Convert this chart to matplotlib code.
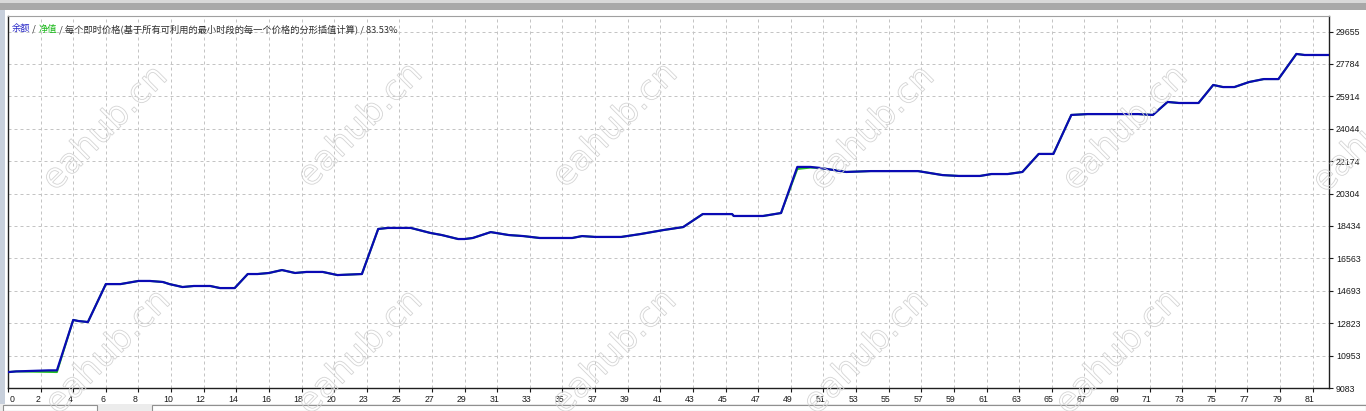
import numpy as np
import matplotlib.pyplot as plt
import matplotlib.patheffects as pe
from matplotlib.patches import Rectangle
from matplotlib.transforms import ScaledTranslation

plt.rcParams['font.family'] = ['Noto Sans CJK SC', 'DejaVu Sans']

# 交易序号 / 余额
trade = [0.0, 0.5, 2.5, 3.0, 4.0, 4.3, 4.9, 6.0, 6.9, 8.0,
         8.7, 9.5, 9.9, 10.7, 11.4, 12.4, 13.0, 13.9, 14.7, 15.3,
         16.0, 16.8, 17.6, 18.3, 19.3, 20.2, 21.7, 22.7, 23.3, 24.7,
         25.9, 26.6, 27.6, 28.0, 28.5, 29.6, 30.7, 31.6, 32.6, 34.6,
         35.2, 36.0, 37.6, 38.8, 40.2, 41.4, 42.6, 44.4, 44.5, 46.3,
         47.4, 48.4, 49.2, 49.8, 51.4, 52.9, 55.8, 57.3, 58.3, 59.6,
         60.3, 61.3, 62.2, 63.2, 64.1, 65.2, 66.2, 68.0, 69.3, 70.2,
         71.1, 71.8, 73.0, 73.9, 74.5, 75.2, 76.1, 77.0, 77.9, 79.0,
         79.5, 81.0]
balance = [10000, 10040, 10100, 10100, 13010, 12950, 12890, 15080, 15080, 15260,
           15260, 15200, 15080, 14910, 14970, 14970, 14850, 14850, 15660, 15660,
           15720, 15890, 15720, 15780, 15780, 15600, 15660, 18260, 18320, 18320,
           18030, 17910, 17680, 17680, 17740, 18080, 17910, 17850, 17740, 17740,
           17850, 17800, 17800, 17970, 18200, 18370, 19120, 19120, 19010, 19010,
           19180, 21840, 21840, 21780, 21550, 21600, 21600, 21370, 21320, 21320,
           21430, 21430, 21550, 22590, 22590, 24840, 24890, 24890, 24890, 24840,
           25590, 25530, 25530, 26570, 26450, 26450, 26740, 26910, 26910, 28360,
           28300, 28300]
# 净值: 与余额基本重合, 只有几处略低
equity = list(balance)
equity[2] = 10010
equity[3] = 10000
equity[51] = 21720
equity[52] = 21800

y_ticks = [9083, 10953, 12823, 14693, 16563, 18434, 20304, 22174, 24044,
           25914, 27784, 29655]
x_labels = [str(v) for v in range(0, 21, 2)] + [str(v) for v in range(23, 82, 2)]

W, H = 1366, 411
fig = plt.figure(figsize=(W / 100, H / 100), dpi=100)
fig.patch.set_facecolor('white')

# 窗口边框装饰
fig.patches.append(Rectangle((0, 1 - 3 / H), 1, 3 / H, transform=fig.transFigure,
                             facecolor='#d8d8d8', edgecolor='none', zorder=-5))
fig.patches.append(Rectangle((0, 1 - 10 / H), 1, 7 / H, transform=fig.transFigure,
                             facecolor='#a8a8a8', edgecolor='none', zorder=-5))
fig.patches.append(Rectangle((0, 0), 5 / W, 1 - 10 / H, transform=fig.transFigure,
                             facecolor='#c8d0dc', edgecolor='none', zorder=-5))
fig.patches.append(Rectangle((0, 0), 1, 7 / H, transform=fig.transFigure,
                             facecolor='#ececec', edgecolor='none', zorder=-5))
fig.patches.append(Rectangle((3 / W, 0), 94 / W, 6 / H, transform=fig.transFigure,
                             facecolor='white', edgecolor='#909090', lw=0.8, zorder=-4))
fig.patches.append(Rectangle((152 / W, 0), 1214 / W, 6 / H, transform=fig.transFigure,
                             facecolor='white', edgecolor='#909090', lw=0.8, zorder=-4))

ax = fig.add_axes([8 / W, 1 - 388 / H, (1329 - 8) / W, (388 - 16) / H])
ax.set_xlim(0, 81)
ax.set_ylim(9083, 30550)

ax.plot(trade, equity, color='#22c022', lw=1.4, zorder=3)
ax.plot(trade, balance, color='#0a0ab4', lw=1.6, zorder=4)

ax.set_yticks(y_ticks)
ax.set_yticklabels([str(v) for v in y_ticks])
ax.set_xticks(range(0, 81, 2))
ax.set_xticklabels(x_labels)
ax.yaxis.tick_right()
ax.tick_params(axis='both', direction='out', length=3, width=0.8,
               labelsize=6.3, colors='#1a1a1a', pad=2)
for lab in ax.get_xticklabels() + ax.get_yticklabels():
    lab.set_family(['Liberation Sans', 'DejaVu Sans'])
for i, lab in enumerate(ax.get_xticklabels()):
    dx = 4 / 100 if i == 0 else -3 / 100
    lab.set_transform(lab.get_transform() + ScaledTranslation(dx, 0, fig.dpi_scale_trans))

ax.grid(True, color='#c4c4c4', lw=0.72, linestyle=(0, (3, 3)))
for side in ['left', 'right', 'bottom']:
    ax.spines[side].set_color('#202020')
    ax.spines[side].set_linewidth(1.0)
ax.spines['top'].set_color('#a0a0a0')
ax.spines['top'].set_linewidth(0.8)

# 图例文字
fig.canvas.draw()
renderer = fig.canvas.get_renderer()
parts = [('余额', '#2828c8'), (' / ', '#303030'), ('净值', '#18b818'),
         (' / 每个即时价格(基于所有可利用的最小时段的每一个价格的分形插值计算) / 83.53%', '#303030')]
x = 12
for s, c in parts:
    t = fig.text(x / W, 1 - 29 / H, s, color=c, fontsize=6.7, va='center', ha='left')
    x += t.get_window_extent(renderer=renderer).width

# 水印
marks = [(105, 128), (360, 125), (615, 125), (872, 128), (1125, 128), (1375, 130),
         (108, 352), (360, 352), (614, 352), (866, 352), (1118, 352)]
for mx, my in marks:
    fig.text(mx / W, 1 - my / H, 'eahub.cn', rotation=45, fontsize=25,
             ha='center', va='center', color='none', family='DejaVu Sans',
             path_effects=[pe.Stroke(linewidth=0.6, foreground='#d4d4d4')],
             zorder=10)

fig.savefig('out.png', dpi=100)
